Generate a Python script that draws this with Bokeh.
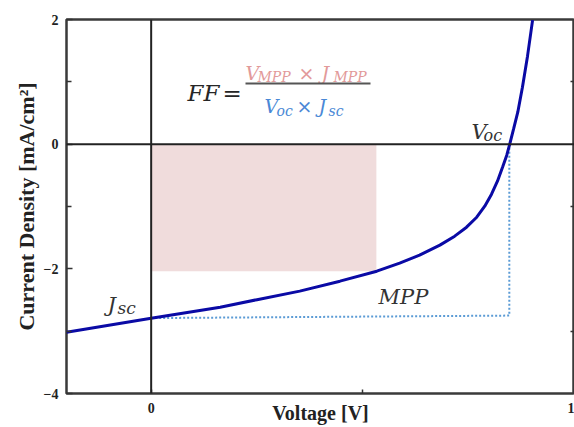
from bokeh.plotting import figure
from bokeh.models import (Span, Label, BoxAnnotation, FixedTicker, LinearAxis, Range1d)
from bokeh.embed import file_html
from bokeh.resources import INLINE

# ---- data ----
voltage = [-0.20, 0.0, 0.163, 0.250, 0.351, 0.446, 0.533, 0.587, 0.634, 0.682, 0.717,
           0.745, 0.769, 0.788, 0.804, 0.818, 0.830, 0.840, 0.847, 0.856, 0.866, 0.877,
           0.889, 0.901]
current = [-3.016, -2.792, -2.615, -2.495, -2.358, -2.198, -2.038, -1.909, -1.781, -1.620,
           -1.476, -1.332, -1.172, -0.995, -0.802, -0.594, -0.369, -0.176, 0.0, 0.241,
           0.513, 0.914, 1.412, 1.990]
V_MPP, J_MPP = 0.532, -2.04
V_OC = 0.846
J_SC = -2.79
J_SC_END = -2.75
x_ticks = [0, 1]
x_minor = [0.5]
y_ticks = [2, 0, -2, -4]
y_minor = [1, -1, -3]

X0, X1 = -0.2, 1.0
Y0, Y1 = -4.0, 2.0
W, H = 574, 427
FL, FT, FB = 66, 19, 393
FR = 574

p = figure(width=W, height=H, output_backend="svg", toolbar_location=None,
           x_range=Range1d(X0, X1), y_range=Range1d(Y0, Y1),
           min_border_left=FL, min_border_top=FT, min_border_bottom=H - FB,
           min_border_right=W - FR)
p.background_fill_color = "white"
p.border_fill_color = "white"
p.outline_line_color = "#3a3a3a"
p.outline_line_width = 2.5
p.grid.visible = False

def vx(px):
    return X0 + (px - FL) * (X1 - X0) / (FR - FL)

def jy(py):
    return Y1 - (py - FT) * (Y1 - Y0) / (FB - FT)

# axes
xa = p.xaxis[0]
xa.ticker = FixedTicker(ticks=x_ticks, minor_ticks=x_minor)
xa.axis_line_color = None
xa.major_tick_in = 4
xa.major_tick_out = 0
xa.minor_tick_in = 4
xa.minor_tick_out = 0
xa.major_tick_line_color = "#333333"
xa.minor_tick_line_color = "#333333"
xa.major_tick_line_width = 1.5
xa.minor_tick_line_width = 1.5
xa.major_label_text_font = "Liberation Serif"
xa.major_label_text_font_style = "bold"
xa.major_label_text_font_size = "14px"
xa.major_label_text_color = "#222222"
xa.major_label_standoff = 9
xa.axis_label = "Voltage [V]"
xa.axis_label_text_font = "Liberation Serif"
xa.axis_label_text_font_style = "bold"
xa.axis_label_text_font_size = "20px"
xa.axis_label_text_color = "#222222"
xa.axis_label_standoff = -14

ya = p.yaxis[0]
ya.ticker = FixedTicker(ticks=y_ticks, minor_ticks=y_minor)
ya.axis_line_color = None
ya.major_tick_in = 6
ya.major_tick_out = 0
ya.minor_tick_in = 5
ya.minor_tick_out = 0
ya.major_tick_line_color = "#333333"
ya.minor_tick_line_color = "#333333"
ya.major_tick_line_width = 1.5
ya.minor_tick_line_width = 1.5
ya.major_label_text_font = "Liberation Serif"
ya.major_label_text_font_style = "bold"
ya.major_label_text_font_size = "14px"
ya.major_label_text_color = "#222222"
ya.major_label_standoff = 8
ya.axis_label = "Current Density [mA/cm²]"
ya.axis_label_text_font = "Liberation Serif"
ya.axis_label_text_font_style = "bold"
ya.axis_label_text_font_size = "22px"
ya.axis_label_text_color = "#222222"
ya.axis_label_standoff = 2

ra = LinearAxis(ticker=FixedTicker(ticks=[], minor_ticks=y_minor))
ra.axis_line_color = None
ra.major_tick_in = 0
ra.major_tick_out = 0
ra.minor_tick_in = 4
ra.minor_tick_out = 0
ra.minor_tick_line_color = "#333333"
ra.minor_tick_line_width = 1.5
ra.major_label_standoff = 0
p.add_layout(ra, "right")

# MPP rectangle
p.add_layout(BoxAnnotation(left=0, right=V_MPP, top=0, bottom=J_MPP,
                           fill_color="#f0dcdc", fill_alpha=1.0, line_color=None, level="underlay"))

# zero lines
p.add_layout(Span(location=0, dimension="height", line_color="#222222", line_width=2))
p.add_layout(Span(location=0, dimension="width", line_color="#222222", line_width=2))

# dotted guide
p.line([0, V_OC, V_OC], [J_SC, J_SC_END, 0], line_color="#5b9bd5", line_width=2,
       line_dash="2 2")

# J-V curve
p.line(voltage, current, line_color="#0a0aa5", line_width=3)

def lab(text, px, py, size, color="#333333", style="italic", align="left", baseline="alphabetic",
        font="DejaVu Serif"):
    p.add_layout(Label(x=vx(px), y=jy(py), text=text, text_font=font,
                       text_font_size=f"{size}px", text_font_style=style, text_color=color,
                       text_align=align, text_baseline=baseline))

PINK = "#e29a9a"
BLUE = "#4a88d6"
# formula
lab("FF", 187, 92, 23, color="#262626")
lab("=", 222, 92, 23, color="#262626", style="normal")
lab("V", 245, 72, 19, color=PINK)
lab("MPP", 257, 76, 14, color=PINK)
lab("×", 298, 72, 19, color=PINK, style="normal")
lab("J", 321, 72, 19, color=PINK)
lab("MPP", 333, 76, 14, color=PINK)
p.add_layout(BoxAnnotation(left=vx(245), right=vx(370), top=jy(82), bottom=jy(84),
                           fill_color="#555555", fill_alpha=1.0, line_color=None))
lab("V", 264, 105, 19, color=BLUE)
lab("oc", 276, 110, 14, color=BLUE)
lab("×", 296, 105, 19, color=BLUE, style="normal")
lab("J", 318, 105, 19, color=BLUE)
lab("sc", 328, 110, 14, color=BLUE)

# point labels
lab("V", 471, 131, 21)
lab("oc", 483, 135, 16)
lab("J", 107, 304, 21)
lab("sc", 117, 307, 17)
lab("MPP", 378, 296, 21)

open("out.html", "w").write(file_html(p, INLINE))
